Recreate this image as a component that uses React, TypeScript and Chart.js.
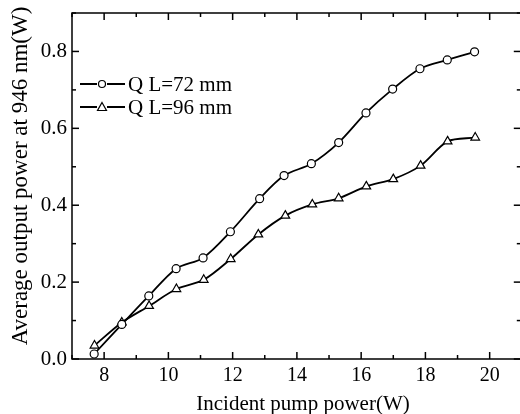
import React, { useEffect, useRef } from "react";
import { Chart, registerables } from "chart.js";

Chart.register(...registerables);

const pumpPower72 = [7.69, 8.55, 9.39, 10.24, 11.08, 11.93, 12.84, 13.6, 14.45, 15.3, 16.15, 16.98, 17.83, 18.68, 19.53];
const output72 = [0.013, 0.09, 0.164, 0.235, 0.263, 0.331, 0.417, 0.477, 0.508, 0.563, 0.64, 0.702, 0.755, 0.778, 0.799];
const pumpPower96 = [7.7, 8.55, 9.4, 10.25, 11.1, 11.94, 12.8, 13.64, 14.48, 15.3, 16.16, 17.0, 17.85, 18.69, 19.55];
const output96 = [0.035, 0.095, 0.138, 0.182, 0.206, 0.26, 0.324, 0.373, 0.402, 0.418, 0.449, 0.468, 0.503, 0.566, 0.576];
const seriesLabels = ["Q L=72 mm", "Q L=96 mm"];
const seriesMarkers = ["circle", "triangle"];
const xMajorTicks = [8, 10, 12, 14, 16, 18, 20];
const xMinorTicks = [7, 9, 11, 13, 15, 17, 19, 21];
const yMajorTicks = [0.0, 0.2, 0.4, 0.6, 0.8];
const yMinorTicks = [0.1, 0.3, 0.5, 0.7, 0.9];
const xTitle = "Incident pump power(W)";
const yTitle = "Average output power at 946 nm(W)";

const FONT = '"Liberation Serif", "Times New Roman", serif';

export default function App() {
  const ref = useRef<HTMLCanvasElement | null>(null);

  useEffect(() => {
    if (!ref.current) return;

    const framePlugin = {
      id: "framePlugin",
      afterDraw(chart: any) {
        const ctx = chart.ctx;
        const { left, right, top, bottom } = chart.chartArea;
        const xs = chart.scales.x;
        const ys = chart.scales.y;
        ctx.save();
        ctx.strokeStyle = "#000";
        ctx.lineWidth = 1.5;
        ctx.beginPath();
        ctx.rect(left, top, right - left, bottom - top);
        ctx.stroke();
        const tick = (x1: number, y1: number, x2: number, y2: number) => {
          ctx.beginPath();
          ctx.moveTo(x1, y1);
          ctx.lineTo(x2, y2);
          ctx.stroke();
        };
        xMajorTicks.forEach((v) => {
          const px = xs.getPixelForValue(v);
          tick(px, bottom, px, bottom - 7);
          tick(px, top, px, top + 7);
        });
        xMinorTicks.forEach((v) => {
          const px = xs.getPixelForValue(v);
          tick(px, bottom, px, bottom - 4);
          tick(px, top, px, top + 4);
        });
        yMajorTicks.forEach((v) => {
          const py = ys.getPixelForValue(v);
          tick(left, py, left + 7, py);
          tick(right, py, right - 8, py);
        });
        yMinorTicks.forEach((v) => {
          const py = ys.getPixelForValue(v);
          tick(left, py, left + 4, py);
          tick(right, py, right - 5, py);
        });

        // axis titles
        ctx.fillStyle = "#000";
        ctx.textAlign = "center";
        ctx.textBaseline = "middle";
        ctx.font = `21px ${FONT}`;
        ctx.fillText(xTitle, 303, 404);
        ctx.save();
        ctx.translate(21, 176);
        ctx.rotate(-Math.PI / 2);
        ctx.font = `23px ${FONT}`;
        ctx.fillText(yTitle, 0, 0);
        ctx.restore();

        // legend
        ctx.font = `21px ${FONT}`;
        const rows = [84, 107];
        seriesLabels.forEach((label, i) => {
          const y = rows[i];
          ctx.lineWidth = 1.8;
          ctx.beginPath();
          ctx.moveTo(80, y);
          ctx.lineTo(97, y);
          ctx.moveTo(107, y);
          ctx.lineTo(125, y);
          ctx.stroke();
          ctx.lineWidth = 1.2;
          if (seriesMarkers[i] === "circle") {
            ctx.beginPath();
            ctx.arc(102, y, 3.5, 0, Math.PI * 2);
            ctx.stroke();
          } else {
            ctx.beginPath();
            ctx.moveTo(102, y - 4.5);
            ctx.lineTo(106.5, y + 3.5);
            ctx.lineTo(97.5, y + 3.5);
            ctx.closePath();
            ctx.stroke();
          }
          ctx.textAlign = "left";
          ctx.textBaseline = "middle";
          ctx.fillText(label, 128, y + 1);
        });
        ctx.restore();
      },
    };

    const chart = new Chart(ref.current, {
      type: "line",
      data: {
        datasets: [
          {
            label: seriesLabels[0],
            data: pumpPower72.map((x, i) => ({ x, y: output72[i] })),
            borderColor: "#000",
            backgroundColor: "#fff",
            borderWidth: 1.8,
            pointStyle: "circle",
            pointRadius: 4,
            pointBorderWidth: 1.2,
            pointBorderColor: "#000",
            pointBackgroundColor: "#fff",
            tension: 0.3,
          },
          {
            label: seriesLabels[1],
            data: pumpPower96.map((x, i) => ({ x, y: output96[i] })),
            borderColor: "#000",
            backgroundColor: "#fff",
            borderWidth: 1.8,
            pointStyle: "triangle",
            pointRadius: 5,
            pointBorderWidth: 1.2,
            pointBorderColor: "#000",
            pointBackgroundColor: "#fff",
            tension: 0.3,
          },
        ],
      },
      options: {
        animation: false,
        responsive: true,
        maintainAspectRatio: false,
        devicePixelRatio: 1,
        layout: { padding: { top: 13, right: 0, left: 0, bottom: 0 } },
        plugins: { legend: { display: false }, tooltip: { enabled: false } },
        scales: {
          x: {
            type: "linear",
            min: 7,
            max: 21,
            grid: { display: false, drawTicks: false },
            border: { display: false },
            ticks: {
              stepSize: 1,
              autoSkip: false,
              maxRotation: 0,
              padding: 5,
              color: "#000",
              font: { family: FONT, size: 20 },
              callback: (v: any) => (xMajorTicks.includes(Number(v)) ? String(v) : ""),
            },
            afterFit: (s: any) => {
              s.height = 55;
              s.paddingLeft = 0;
              s.paddingRight = 0;
            },
          },
          y: {
            type: "linear",
            min: 0,
            max: 0.9,
            grid: { display: false, drawTicks: false },
            border: { display: false },
            ticks: {
              stepSize: 0.1,
              autoSkip: false,
              padding: 5,
              color: "#000",
              font: { family: FONT, size: 21 },
              callback: (v: any) => {
                const n = Number(v);
                return yMajorTicks.some((t) => Math.abs(t - n) < 1e-6) ? n.toFixed(1) : "";
              },
            },
            afterFit: (s: any) => {
              s.width = 72;
              s.paddingTop = 0;
              s.paddingBottom = 0;
            },
          },
        },
      },
      plugins: [framePlugin],
    } as any);

    return () => chart.destroy();
  }, []);

  return (
    <div
      style={{
        position: "fixed",
        left: 0,
        top: 0,
        width: 520,
        height: 414,
        overflow: "hidden",
        background: "#fff",
      }}
    >
      <div style={{ position: "relative", width: 528, height: 414 }}>
        <canvas ref={ref} />
      </div>
    </div>
  );
}
